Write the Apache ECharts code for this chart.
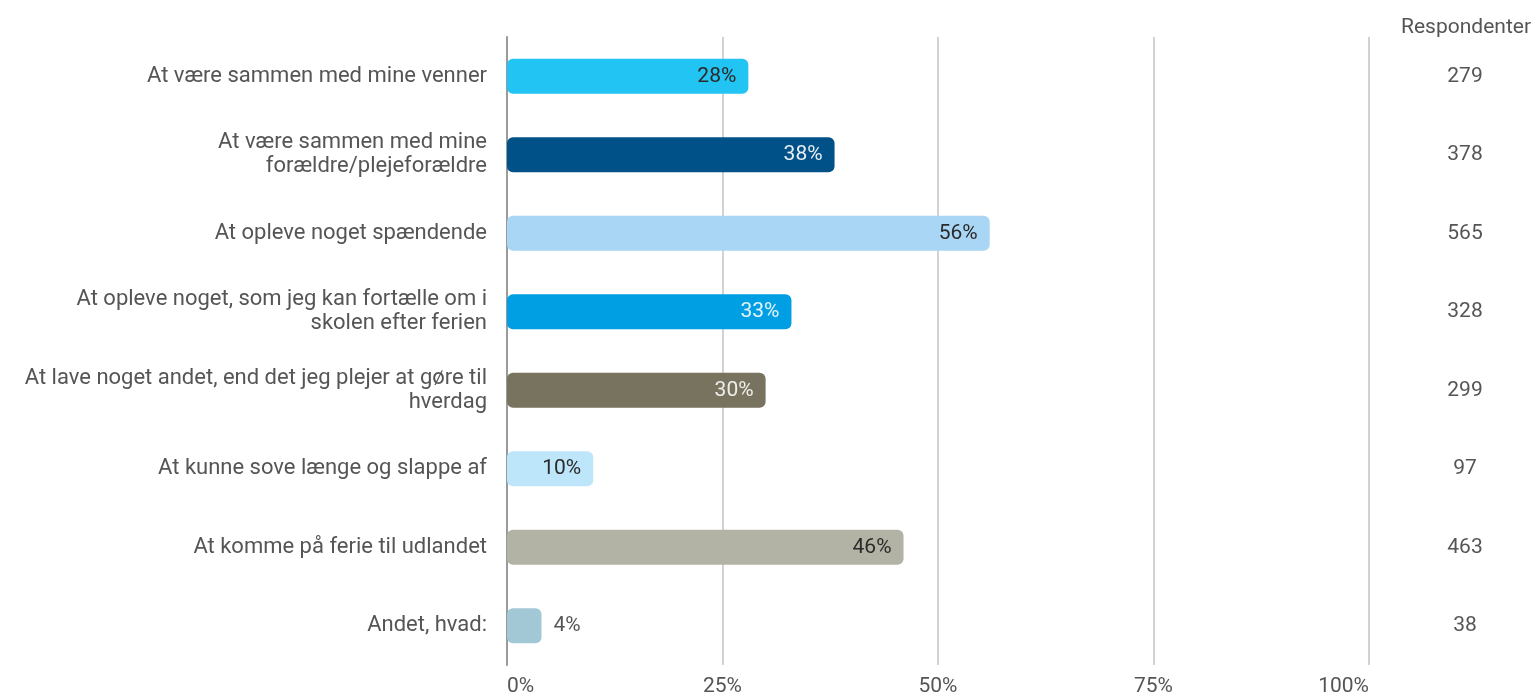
<!DOCTYPE html>
<html>
<head>
<meta charset="utf-8">
<script src="https://cdn.jsdelivr.net/npm/echarts@6/dist/echarts.min.js"></script>
<style>
html,body{margin:0;padding:0;background:#fff;}
#c{width:1539px;height:697px;}
</style>
</head>
<body>
<div id="c"></div>
<script>
const categories = [
  "At være sammen med mine venner",
  "At være sammen med mine\nforældre/plejeforældre",
  "At opleve noget spændende",
  "At opleve noget, som jeg kan fortælle om i\nskolen efter ferien",
  "At lave noget andet, end det jeg plejer at gøre til\nhverdag",
  "At kunne sove længe og slappe af",
  "At komme på ferie til udlandet",
  "Andet, hvad:"
];
const percentValues = [28, 38, 56, 33, 30, 10, 46, 4];
const respondents = [279, 378, 565, 328, 299, 97, 463, 38];
const tickValues = [0, 25, 50, 75, 100];
const barColors = ["#22C4F3", "#005187", "#A9D6F5", "#009FE3", "#77735F", "#BEE6FA", "#B2B3A5", "#A2C7D5"];
const labelColors = ["#2a2a2a", "#e8eef4", "#2a2a2a", "#e8f4fb", "#eeeeea", "#2a2a2a", "#2a2a2a", "#555555"];

const FONT = "Roboto";
const FS = 21;
const chart = echarts.init(document.getElementById('c'), null, {renderer: 'canvas'});

const data = percentValues.map((v, i) => ({
  value: v,
  itemStyle: {color: barColors[i], borderRadius: 6},
  label: v < 5
    ? {position: 'right', distance: 12, color: labelColors[i]}
    : {position: 'insideRight', distance: 12, color: labelColors[i]}
}));

chart.setOption({
  animation: false,
  backgroundColor: '#ffffff',
  title: {
    text: 'Respondenter',
    right: 3,
    top: 12,
    textStyle: {fontFamily: FONT, fontSize: FS, fontWeight: 'normal', color: '#555'}
  },
  grid: {left: 507, right: 170, top: 37, bottom: 31, containLabel: false},
  xAxis: {
    type: 'value',
    min: 0,
    max: 100,
    interval: 25,
    axisLine: {show: false},
    axisTick: {show: false},
    splitLine: {lineStyle: {color: '#d2d2d2', width: 2}},
    axisLabel: {
      margin: 11,
      alignMinLabel: 'left',
      alignMaxLabel: 'right',
      fontFamily: FONT, fontSize: FS, color: '#555',
      formatter: function (v) { return tickValues.indexOf(v) >= 0 ? v + '%' : ''; }
    }
  },
  yAxis: [{
    type: 'category',
    data: categories,
    inverse: true,
    axisLine: {show: true, lineStyle: {color: '#9a9a9a', width: 2}},
    axisTick: {show: false},
    splitLine: {show: false},
    axisLabel: {
      margin: 20,
      align: 'right',
      fontFamily: FONT, fontSize: 22, color: '#555', lineHeight: 24
    }
  }, {
    type: 'category',
    data: respondents.map(String),
    inverse: true,
    position: 'right',
    axisLine: {show: false},
    axisTick: {show: false},
    splitLine: {show: false},
    axisLabel: {
      margin: 96,
      align: 'center',
      fontFamily: FONT, fontSize: FS, color: '#555'
    }
  }],
  series: [{
    type: 'bar',
    yAxisIndex: 0,
    data: data,
    barWidth: 35,
    label: {
      show: true,
      formatter: '{c}%',
      fontFamily: FONT, fontSize: FS
    }
  }]
});
</script>
</body>
</html>
